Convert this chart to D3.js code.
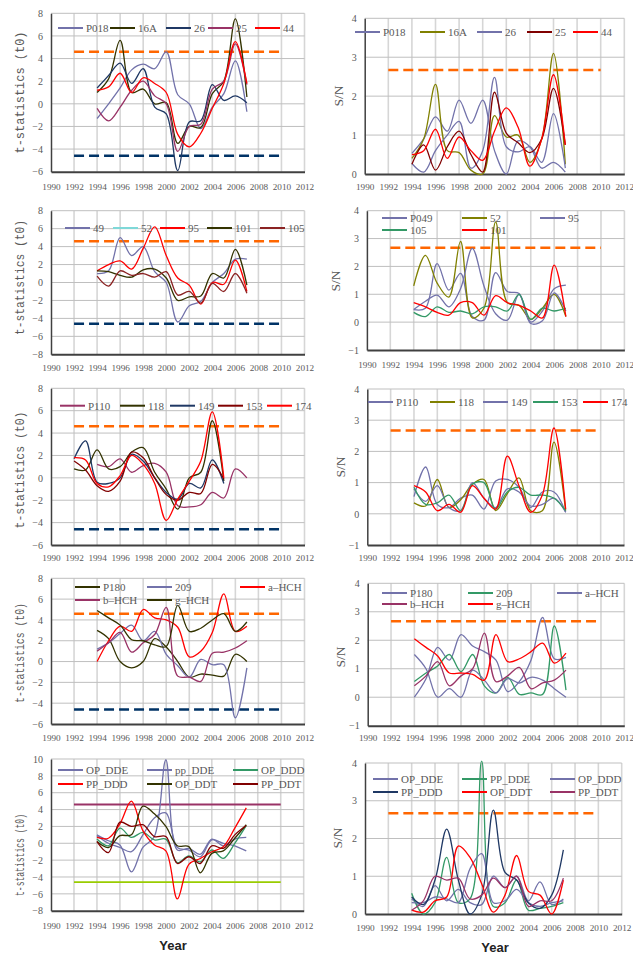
<!doctype html>
<html lang="en">
<head>
<meta charset="utf-8">
<script src="https://cdnjs.cloudflare.com/ajax/libs/d3/7.8.5/d3.min.js"></script>
<style>
  body { margin: 0; padding: 0; background: #fff; }
  svg { display: block; }
</style>
</head>
<body>
<svg id="canvas" width="633" height="955"></svg>
<script>
// ---- data ----
var years94 = d3.range(1994, 2008);
var years92 = d3.range(1992, 2006);
var xTicks = d3.range(1990, 2013, 2);

// row 1
var p1tNames = ['P018', '16A', '26', '25', '44'];
var p1tValues = [
  [-1.3, 0.0, 1.4, 3.0, 3.5, 3.1, 4.6, 0.8, 0.0, -2.2, -0.3, 0.9, 3.8, -0.7],
  [1.0, 2.2, 5.6, 1.0, 1.3, 0.0, 0.1, -3.5, -2.0, -2.1, 0.9, 2.0, 7.5, 0.6],
  [1.4, 2.5, 3.6, 1.8, 3.1, -0.3, -0.9, -5.9, -1.6, -1.5, 1.7, 0.3, 0.7, 0.1],
  [-0.4, -1.5, -0.3, 1.2, 2.0, 0.7, 0.0, -4.2, -2.0, -1.8, 1.3, 2.0, 5.3, 1.7],
  [1.2, 1.5, 2.7, 1.0, 2.3, 1.8, 1.0, -2.7, -3.8, -2.6, -0.4, 1.8, 5.5, 1.8]
];
var p1sNames = ['P018', '16A', '26', '25', '44'];
var p1sValues = [
  [0.53, 0.9, 1.47, 1.1, 1.9, 1.3, 1.9, 0.6, 0.0, 0.85, 0.7, 0.15, 0.3, 0.05],
  [0.4, 0.9, 2.3, 0.6, 0.55, 0.1, 0.0, 1.5, 0.95, 1.0, 0.3, 0.9, 3.1, 0.25],
  [0.27, 0.05, 0.6, 1.0, 1.35, 0.15, 0.6, 2.48, 0.7, 0.57, 0.7, 0.3, 1.55, 0.15],
  [0.25, 0.75, 0.1, 0.7, 1.1, 0.5, 0.05, 2.1, 1.05, 0.8, 0.55, 0.9, 2.2, 0.75],
  [0.5, 0.6, 1.15, 0.4, 0.95, 0.6, 0.35, 1.1, 1.7, 1.2, 0.2, 0.9, 2.55, 0.75]
];

// row 2
var p2tNames = ['49', '52', '95', '101', '105'];
var p2tValues = [
  [1.0, 1.3, 5.0, 3.0, 4.0, 1.2, 0.0, -4.4, -2.6, -2.1, 0.0, 1.0, 2.6, 2.6],
  null,
  [1.3, 2.0, 2.4, 1.5, 3.8, 6.2, 3.0, 0.5, -0.3, -2.4, 0.0, -0.2, 2.5, -1.0],
  [1.3, 1.2, 0.8, 0.6, 1.4, 1.5, 0.5, -2.0, -1.6, -1.5, 1.0, 0.5, 3.7, -0.3],
  [0.7, -0.4, 1.3, 0.8, 1.0, 0.6, 1.2, -1.4, -1.0, -2.3, -0.1, -1.0, 1.0, -1.2]
];
var p2sNames = ['P049', '52', '95', '105', '101'];
var p2sValues = [
  [0.45, 0.5, 2.1, 1.15, 1.75, 0.2, 0.07, 1.78, 1.1, 1.03, 0.0, 0.4, 1.2, 1.33],
  [1.3, 2.4, 1.4, 0.9, 2.9, 0.15, 0.5, 3.6, 0.7, 0.6, 0.1, 0.5, 1.0, 0.2],
  [0.45, 0.75, 0.97, 0.55, 1.2, 2.65, 1.3, 0.3, 0.07, 1.0, -0.05, 0.05, 1.05, 0.4],
  [0.35, 0.2, 0.55, 0.35, 0.4, 0.3, 0.55, 0.55, 0.4, 1.0, 0.1, 0.5, 0.4, 0.5],
  [0.7, 0.55, 0.35, 0.25, 0.7, 0.7, 0.25, 0.95, 0.7, 0.6, 0.4, 0.15, 2.05, 0.2]
];

// row 3 (t-statistics series 118..174 run 1992-2005)
var p3tNames = ['P110', '118', '149', '153', '174'];
var p3tStarts = [1994, 1992, 1992, 1992, 1992];
var p3tValues = [
  [1.2, 1.0, 1.7, 0.5, 1.1, 1.3, 0.5, -2.5, -2.6, -2.4, -1.3, -1.8, 0.8, 0.0],
  [0.8, 0.7, 2.5, 0.8, 1.0, 2.3, 2.7, 0.5, -1.0, -2.8, 0.0, 0.5, 5.1, -0.3],
  [1.7, 3.3, -0.4, -0.5, 0.0, 2.1, 1.5, 0.0, -1.3, -1.9, -0.5, -0.9, 1.6, -0.5],
  [1.5, 0.7, -0.7, -1.2, -0.3, 2.3, 1.8, 0.0, -1.5, -2.0, -1.3, -1.4, 1.2, -0.1],
  [1.8, 1.6, -0.5, -0.8, 0.2, 2.0, 1.2, -0.5, -3.8, -1.9, -0.3, 1.5, 5.9, 0.0]
];
var p3sNames = ['P110', '118', '149', '153', '174'];
var p3sValues = [
  [0.55, 1.5, 0.3, 0.2, 0.5, 0.6, 0.15, 1.05, 1.1, 0.85, 0.2, 0.7, 0.7, 0.05],
  [0.35, 0.25, 1.1, 0.2, 0.45, 0.95, 1.1, 0.1, 0.65, 1.15, 0.1, 0.1, 2.3, 0.1],
  [0.8, 0.4, 0.9, 0.2, 0.1, 1.0, 0.5, 0.2, 0.8, 0.7, 0.25, 0.3, 0.5, 0.05],
  [0.85, 0.3, 0.35, 0.6, 0.1, 0.95, 1.0, 0.15, 0.7, 0.85, 0.6, 0.6, 0.5, 0.1],
  [0.9, 0.7, 0.1, 0.3, 0.05, 0.9, 0.5, 0.15, 1.85, 0.9, 0.05, 0.6, 2.75, 0.15]
];

// row 4
var p4tNames = ['P180', '209', 'a\u2013HCH', 'b\u2013HCH', 'g\u2013HCH'];
var p4tValues = [
  [3.0, 2.2, 0.0, -0.6, 0.0, 2.2, 1.4, 0.0, -1.5, -1.2, -1.3, -1.4, 0.7, 0.0],
  [1.2, 1.8, 2.7, 3.5, 2.0, 2.9, 0.7, -0.4, -1.5, 0.2, -0.3, -0.3, -5.4, -0.6],
  [0.0, 2.0, 3.4, 2.9, 5.0, 4.2, 4.0, 3.3, 0.45, 1.0, 2.8, 6.5, 2.9, 3.4],
  [1.0, 1.8, 2.8, 0.9, 1.8, 2.6, 5.2, -1.4, -1.5, -1.9, 0.8, 0.9, 1.3, 2.0],
  [4.9, 4.2, 3.5, 2.1, 2.0, 1.6, 1.45, 5.4, 2.9, 3.2, 4.0, 4.6, 2.9, 3.8]
];
var p4sNames = ['P180', '209', 'a\u2013HCH', 'b\u2013HCH', 'g\u2013HCH'];
var p4sValues = [
  [0.0, 0.65, 1.75, 1.3, 2.2, 1.8, 1.6, 1.3, 0.2, 0.55, 1.3, 2.8, 1.35, 1.4],
  [0.55, 0.85, 1.1, 1.5, 0.9, 1.5, 0.4, 0.15, 0.7, 0.1, 0.15, 0.1, 2.5, 0.25],
  [1.5, 1.0, 0.0, 0.3, 0.0, 0.95, 0.6, 0.15, 0.65, 0.5, 0.7, 0.6, 0.3, 0.0],
  [0.4, 0.75, 1.25, 0.4, 0.75, 1.0, 2.25, 0.55, 0.75, 1.05, 0.3, 0.5, 0.6, 0.95],
  [2.05, 1.75, 1.45, 0.85, 0.85, 0.8, 0.6, 2.2, 1.25, 1.35, 1.6, 1.9, 1.2, 1.55]
];

// row 5
var p5tNames = ['OP_DDE', 'pp_DDE', 'OP_DDD', 'PP_DDD', 'OP_DDT', 'PP_DDT'];
var p5tValues = [
  [0.9, 0.0, -0.5, -1.0, 1.0, 3.0, 3.6, -0.5, -0.8, -1.6, 0.4, 0.0, -0.3, -0.9],
  [1.0, 0.3, -0.2, -3.4, -0.5, 0.8, 9.9, -0.8, -0.6, -1.3, 0.5, -0.3, 0.5, 0.7],
  [0.5, -0.3, 1.8, 0.7, 1.3, 0.4, 0.5, -2.3, -1.5, -2.2, -0.8, -1.8, 0.0, 2.1],
  [0.7, 0.6, 2.3, 5.0, 1.5, -0.2, -0.9, -6.6, -2.5, -1.8, -1.0, -0.4, 1.8, 4.2],
  [0.2, -0.5, 0.9, 1.0, 4.4, 3.5, 2.0, -0.3, -0.4, -3.5, -1.2, -0.9, 0.6, 2.2],
  [0.2, -1.1, 2.5, 2.0, 2.2, 0.8, 0.8, -2.4, -1.6, -2.4, -0.3, -0.6, 1.0, 2.1]
];
var p5sNames = ['OP_DDE', 'PP_DDE', 'OP_DDD', 'PP_DDD', 'OP_DDT', 'PP_DDT'];
var p5sValues = [
  [0.4, 0.2, 0.75, 0.35, 0.65, 0.3, 0.25, 1.0, 0.7, 1.0, 0.35, 0.85, 0.25, 0.4],
  [0.55, 0.0, 0.3, 1.5, 0.3, 0.4, 4.05, 0.2, 0.3, 0.9, 0.1, 0.15, 0.2, 0.3],
  [0.3, 0.3, 0.45, 0.4, 0.3, 1.2, 1.6, 0.3, 0.35, 0.65, 0.3, 0.2, 0.3, 0.35],
  [0.45, 0.25, 0.9, 2.25, 0.9, 0.0, 0.5, 2.75, 1.1, 0.9, 0.3, 0.15, 0.5, 1.7],
  [0.1, 0.05, 0.35, 0.45, 1.8, 1.5, 0.8, 0.05, 0.5, 1.55, 0.6, 0.5, 0.0, 0.9],
  [0.1, 0.35, 1.0, 0.9, 0.95, 0.4, 0.5, 0.95, 0.7, 1.0, 0.2, 0.35, 0.35, 0.95]
];

// critical values drawn as horizontal reference lines
var tCrit = 4.6;
var snCrit = 2.67;

// ---- styles ----
var lavender = '#7272aa', darkOlive = '#333300', olive = '#808000', navy = '#1f3864',
    plum = '#993366', maroon = '#800000', red = '#ff0000', green = '#339966', cyan = '#7fd8d8';
var greyText = '#595959';

var tRefs = [
  { v: tCrit, color: '#ff6600', dash: '10,5', w: 2.5 },
  { v: -tCrit, color: '#003366', dash: '10,5', w: 2.5 }
];
var snRefs = [{ v: snCrit, color: '#ff6600', dash: '10,5', w: 2.5 }];

var panels = [
  { names: p1tNames, values: p1tValues, colors: [lavender, darkOlive, navy, plum, red],
    left: 51, right: 304.5, top: 13.3, bottom: 171.7, yDomain: [-6, 8], yStep: 2, tickY: 187,
    kind: 't', labelX: 20, labelC: 92.5, labelLen: 122, refs: tRefs,
    legend: { xs: [58, 110, 166, 208, 255], ys: [28] } },
  { names: p1sNames, values: p1sValues, colors: [lavender, olive, lavender, maroon, red],
    left: 364.7, right: 624.3, top: 18.3, bottom: 174, yDomain: [0, 4], yStep: 1, tickY: 187,
    kind: 's', labelX: 338, labelC: 96, refs: snRefs,
    legend: { xs: [355, 420, 477, 527, 573], ys: [32] } },

  { names: p2tNames, values: p2tValues, colors: [lavender, cyan, red, darkOlive, '#8b2323'],
    left: 51, right: 304.5, top: 210.7, bottom: 354.3, yDomain: [-8, 8], yStep: 2, tickY: 368,
    kind: 't', labelX: 20, labelC: 277.5, labelLen: 115, refs: tRefs,
    legend: { xs: [65, 113, 160, 207, 260], ys: [228] } },
  { names: p2sNames, values: p2sValues, colors: [lavender, olive, lavender, green, red],
    left: 366.9, right: 624.4, top: 210.7, bottom: 350, yDomain: [-1, 4], yStep: 1, tickY: 365,
    kind: 's', labelX: 335, labelC: 281, refs: snRefs,
    legend: { xs: [382, 462, 540], ys: [218, 230] } },

  { names: p3tNames, values: p3tValues, starts: p3tStarts, colors: [plum, darkOlive, navy, maroon, red],
    left: 51, right: 304.5, top: 388.3, bottom: 545, yDomain: [-6, 8], yStep: 2, tickY: 558,
    kind: 't', labelX: 20, labelC: 470, labelLen: 117, refs: tRefs,
    legend: { xs: [60, 120, 170, 218, 267], ys: [405.7] } },
  { names: p3sNames, values: p3sValues, colors: [lavender, olive, lavender, green, red],
    left: 367.3, right: 624, top: 389, bottom: 545, yDomain: [-1, 4], yStep: 1, tickY: 558,
    kind: 's', labelX: 340, labelC: 467, refs: snRefs,
    legend: { xs: [368, 430, 483, 533, 583], ys: [402] } },

  { names: p4tNames, values: p4tValues, colors: [darkOlive, lavender, red, plum, darkOlive],
    left: 51, right: 304.5, top: 578.3, bottom: 724, yDomain: [-6, 8], yStep: 2, tickY: 738,
    kind: 't', labelX: 20, labelC: 653, labelLen: 100, refs: tRefs,
    legend: { xs: [75, 147, 240], ys: [587, 600] } },
  { names: p4sNames, values: p4sValues, colors: [lavender, green, lavender, plum, red],
    left: 367.7, right: 624.3, top: 583.3, bottom: 725.7, yDomain: [-1, 4], yStep: 1, tickY: 738,
    kind: 's', labelX: 340, labelC: 657, refs: snRefs,
    legend: { xs: [382, 468, 557], ys: [593, 604] } },

  { names: p5tNames, values: p5tValues, colors: [lavender, lavender, green, red, darkOlive, maroon],
    left: 51, right: 303.7, top: 759, bottom: 910.7, yDomain: [-8, 10], yStep: 2, tickY: 926,
    kind: 't', labelX: 20, labelC: 855, labelLen: 82,
    refs: [{ v: tCrit, color: plum, w: 1.8 }, { v: -tCrit, color: '#99cc00', w: 1.8 }],
    legend: { xs: [58, 147, 233], ys: [770, 784] } },
  { names: p5sNames, values: p5sValues, colors: [lavender, green, lavender, navy, red, plum],
    left: 365, right: 621.7, top: 763, bottom: 914, yDomain: [0, 4], yStep: 1, tickY: 928,
    kind: 's', labelX: 337, labelC: 838, refs: snRefs,
    legend: { xs: [373, 462, 550], ys: [779, 792] } }
];

var svg = d3.select('#canvas');
svg.append('rect').attr('width', 633).attr('height', 955).attr('fill', '#fff');

var serif = "'Liberation Serif', 'DejaVu Serif', serif";

function drawPanel(p) {
  var x = d3.scaleLinear().domain([1990, 2012]).range([p.left, p.right]);
  var y = d3.scaleLinear().domain(p.yDomain).range([p.bottom, p.top]);
  var yTicks = d3.range(p.yDomain[0], p.yDomain[1] + 0.001, p.yStep);
  var g = svg.append('g');

  // vertical grid
  g.selectAll('.vgrid').data(xTicks.slice(1)).enter().append('line')
    .attr('x1', function(d) { return x(d); })
    .attr('x2', function(d) { return x(d); })
    .attr('y1', p.top).attr('y2', p.bottom)
    .attr('stroke', '#d6d6d6').attr('stroke-width', 1.6);

  // horizontal grid
  g.selectAll('.hgrid').data(yTicks.slice(1)).enter().append('line')
    .attr('x1', p.left).attr('x2', p.right)
    .attr('y1', function(d) { return y(d); })
    .attr('y2', function(d) { return y(d); })
    .attr('stroke', '#bfbfbf').attr('stroke-width', 1);

  // axes
  var xAxis = g.append('g')
    .attr('transform', 'translate(0,' + p.bottom + ')')
    .call(d3.axisBottom(x).tickValues(xTicks).tickSize(0).tickSizeOuter(0)
      .tickPadding(p.tickY - p.bottom - 3.3).tickFormat(d3.format('d')));
  var yAxis = g.append('g')
    .attr('transform', 'translate(' + p.left + ',0)')
    .call(d3.axisLeft(y).tickValues(yTicks).tickSize(0).tickSizeOuter(0).tickPadding(8)
      .tickFormat(d3.format('d')));
  xAxis.attr('font-family', serif).attr('font-size', 9.2);
  yAxis.attr('font-family', serif).attr('font-size', 10);
  [xAxis, yAxis].forEach(function(a) {
    a.selectAll('text').attr('fill', greyText);
  });
  xAxis.select('.domain').attr('stroke', '#404040').attr('stroke-width', 2);
  yAxis.select('.domain').attr('stroke', '#404040').attr('stroke-width', 1.5);

  // reference lines
  g.selectAll('.ref').data(p.refs).enter().append('line')
    .attr('x1', x(1992)).attr('x2', x(2010))
    .attr('y1', function(d) { return y(d.v); })
    .attr('y2', function(d) { return y(d.v); })
    .attr('stroke', function(d) { return d.color; })
    .attr('stroke-width', function(d) { return d.w; })
    .attr('stroke-dasharray', function(d) { return d.dash || null; });

  // series
  var series = p.names.map(function(name, i) {
    var start = p.starts ? p.starts[i] : 1994;
    var vals = p.values[i];
    return {
      name: name,
      color: p.colors[i],
      points: vals ? vals.map(function(v, j) { return [start + j, v]; }) : []
    };
  });

  var line = d3.line()
    .x(function(d) { return x(d[0]); })
    .y(function(d) { return y(d[1]); })
    .curve(d3.curveCatmullRom.alpha(0.5));

  g.selectAll('.series').data(series.filter(function(s) { return s.points.length; }))
    .enter().append('path')
    .attr('d', function(d) { return line(d.points); })
    .attr('fill', 'none')
    .attr('stroke', function(d) { return d.color; })
    .attr('stroke-width', 1.3);

  // legend
  var cols = p.legend.xs.length;
  var items = g.selectAll('.legend').data(series).enter().append('g')
    .attr('transform', function(d, i) {
      return 'translate(' + p.legend.xs[i % cols] + ',' + p.legend.ys[Math.floor(i / cols)] + ')';
    });
  items.append('line')
    .attr('x1', 0).attr('x2', 25).attr('y1', 0).attr('y2', 0)
    .attr('stroke', function(d) { return d.color; })
    .attr('stroke-width', 2);
  items.append('text')
    .attr('x', 28).attr('dy', '0.35em')
    .attr('font-family', serif).attr('font-size', 11)
    .attr('fill', greyText)
    .text(function(d) { return d.name; });

  // y title
  var title = svg.append('text')
    .attr('transform', 'translate(' + p.labelX + ',' + p.labelC + ') rotate(-90)')
    .attr('text-anchor', 'middle').attr('dy', '0.35em')
    .attr('fill', greyText);
  if (p.kind === 't') {
    title.attr('font-family', "'Liberation Mono', 'DejaVu Sans Mono', monospace")
      .attr('font-size', 12)
      .attr('textLength', p.labelLen).attr('lengthAdjust', 'spacingAndGlyphs')
      .text('t-statistics (t0)');
  } else {
    title.attr('font-family', serif).attr('font-size', 13.5).text('S/N');
  }
}

panels.forEach(drawPanel);

// bottom titles
svg.append('text').attr('x', 173).attr('y', 945).attr('dy', '0.35em')
  .attr('text-anchor', 'middle')
  .attr('font-family', "'Liberation Sans', Arial, sans-serif")
  .attr('font-weight', 'bold').attr('font-size', 13)
  .attr('fill', '#222').text('Year');
svg.append('text').attr('x', 495).attr('y', 947).attr('dy', '0.35em')
  .attr('text-anchor', 'middle')
  .attr('font-family', "'Liberation Sans', Arial, sans-serif")
  .attr('font-weight', 'bold').attr('font-size', 13)
  .attr('fill', '#222').text('Year');
</script>
</body>
</html>
